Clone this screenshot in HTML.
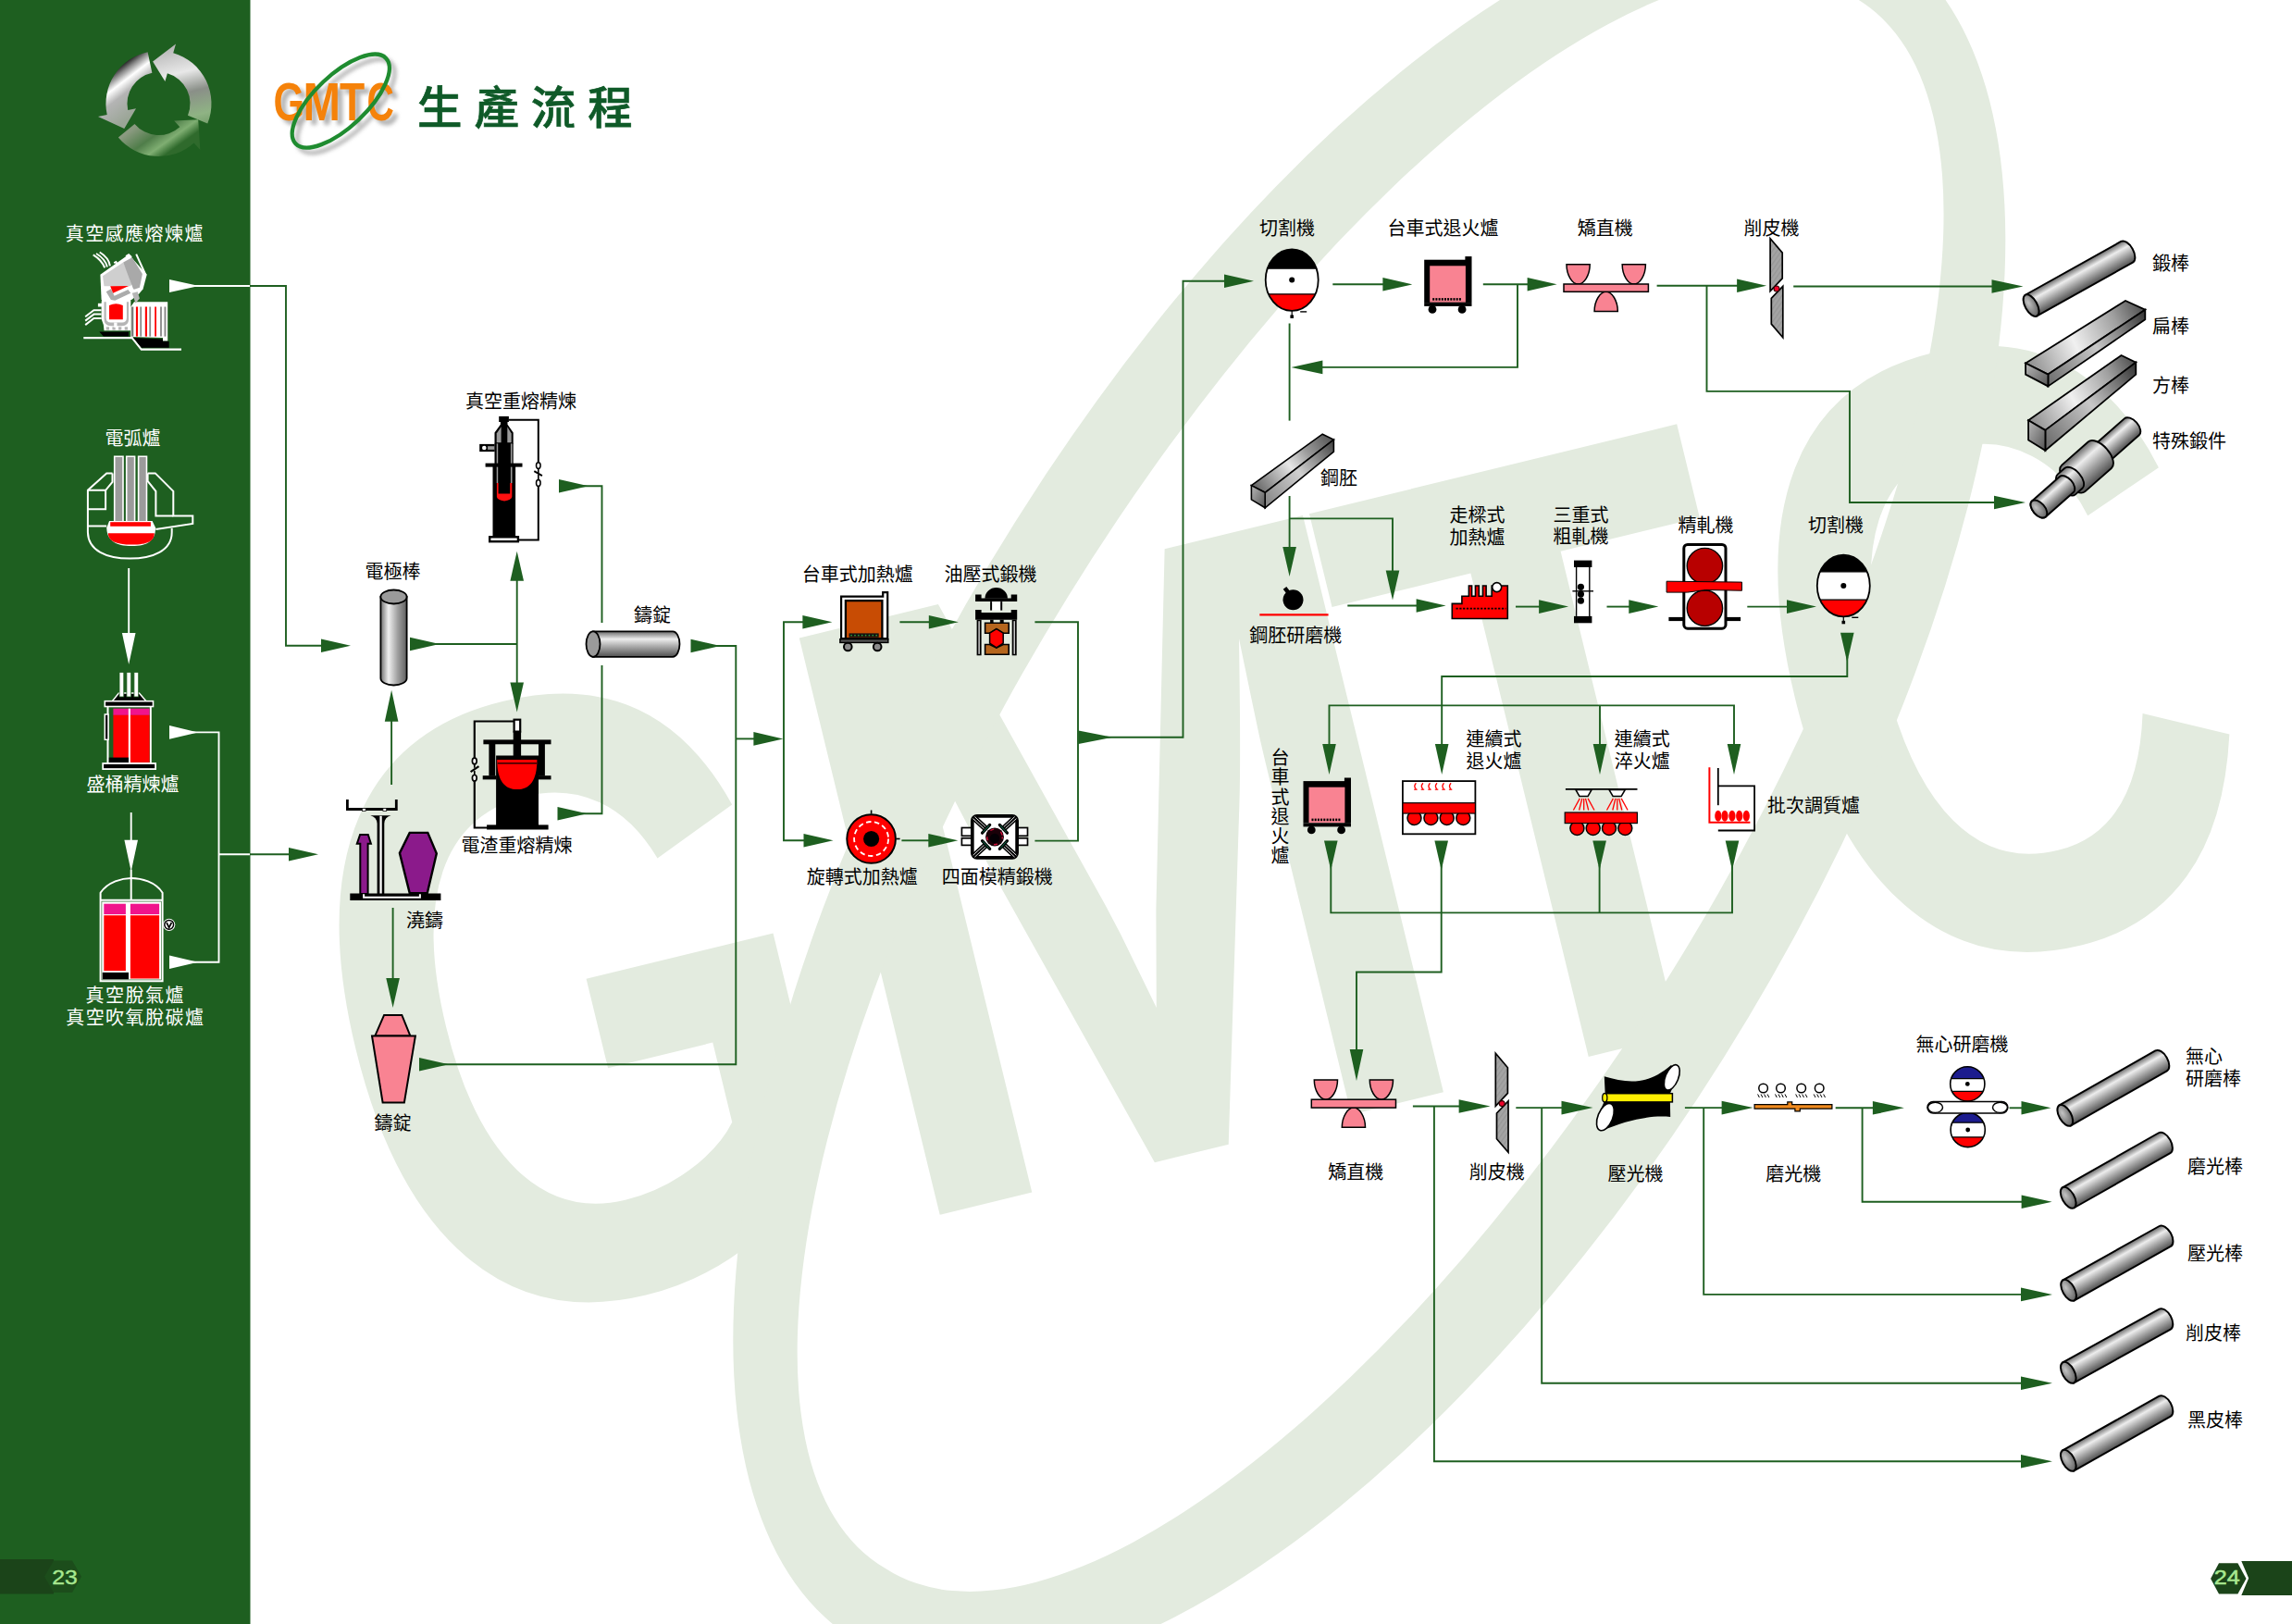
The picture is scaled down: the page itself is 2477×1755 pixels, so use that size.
<!DOCTYPE html>
<html lang="zh-Hant"><head><meta charset="utf-8"><title>生產流程</title>
<style>
html,body{margin:0;padding:0;background:#fff}
body{width:2477px;height:1755px;overflow:hidden;position:relative}
svg{position:absolute;left:0;top:0;display:block}
text{font-family:"Liberation Sans","Noto Sans CJK TC","Noto Sans CJK SC","Noto Sans CJK JP","WenQuanYi Zen Hei",sans-serif}
</style></head><body>
<svg width="2477" height="1755" viewBox="0 0 2477 1755">
<!-- gen_bg.py -->
<defs><linearGradient id="rodg" x1="0" y1="0" x2="0" y2="1"><stop offset="0" stop-color="#6a6a6a"/><stop offset="0.3" stop-color="#ededed"/><stop offset="0.6" stop-color="#a8a8a8"/><stop offset="1" stop-color="#505050"/></linearGradient><linearGradient id="cylv" x1="0" y1="0" x2="1" y2="0"><stop offset="0" stop-color="#707070"/><stop offset="0.3" stop-color="#f0f0f0"/><stop offset="0.65" stop-color="#a0a0a0"/><stop offset="1" stop-color="#606060"/></linearGradient><linearGradient id="faceg" x1="0" y1="0" x2="1" y2="1"><stop offset="0" stop-color="#b8b8b8"/><stop offset="1" stop-color="#555"/></linearGradient></defs>
<rect x="0.0" y="0.0" width="2477.0" height="1755.0" fill="#ffffff" stroke="none" stroke-width="0" />
<!-- gen_water.py -->
<g transform="rotate(-13.7)" fill="#e3ebdf">
<text transform="translate(76.6 1516.0) scale(0.7436 1)" x="0" y="0" font-size="932.4" font-weight="700">G</text>
<text transform="translate(622.3 1516.0) scale(0.8592 1)" x="0" y="0" font-size="932.4" font-weight="700">M</text>
<text transform="translate(1235.4 1516.0) scale(0.7447 1)" x="0" y="0" font-size="932.4" font-weight="700">T</text>
<text transform="translate(1678.0 1516.0) scale(0.7330 1)" x="0" y="0" font-size="932.4" font-weight="700">C</text>
</g>
<path d="M2030.5,-67.9 A1073.7,475.3 -59.14 1 0 929.1,1775.5 A1073.7,475.3 -59.14 1 0 2030.5,-67.9 Z M2005.6,-1.9 A997.4,380.4 -58.27 1 0 956.6,1694.7 A997.4,380.4 -58.27 1 0 2005.6,-1.9 Z" fill="#e3ebdf" stroke="none" stroke-width="0" fill-rule="evenodd"/>
<!-- gen_sidebg.py -->
<rect x="0.0" y="0.0" width="270.5" height="1755.0" fill="#1e5f20" stroke="none" stroke-width="0" />
<rect x="0.0" y="1685.0" width="58.0" height="37.5" fill="#1b4419" stroke="none" stroke-width="0" />
<polygon points="48.0,1703.7 58.0,1686.5 78.0,1686.5 88.0,1703.7 78.0,1721.0 58.0,1721.0" fill="#1c4d1b" stroke="none" stroke-width="0" />
<polygon points="2422.3,1687.0 2477.0,1687.0 2477.0,1724.0 2422.3,1724.0 2430.2,1705.5" fill="#1b4419" stroke="none" stroke-width="0" />
<polygon points="2389.1,1706.0 2398.0,1689.3 2418.4,1689.3 2427.5,1706.0 2418.4,1722.6 2398.0,1722.6" fill="#1b4419" stroke="none" stroke-width="0" />
<!-- gen_lines.py -->
<polygon points="215.0,309.0 183.0,302.0 183.0,316.0" fill="#ffffff"/>
<polyline points="205.0,309.0 270.0,309.0" fill="none" stroke="#ffffff" stroke-width="1.9" />
<polyline points="270.0,309.0 309.0,309.0 309.0,697.7 350.0,697.7" fill="none" stroke="#1e5f20" stroke-width="1.9" />
<polygon points="379.0,697.7 347.0,690.4 347.0,705.0" fill="#1e5f20"/>
<polyline points="139.2,614.0 139.2,690.0" fill="none" stroke="#ffffff" stroke-width="1.9" />
<polygon points="139.2,718.0 131.9,684.0 146.5,684.0" fill="#ffffff"/>
<polyline points="141.7,878.0 141.7,910.0" fill="none" stroke="#ffffff" stroke-width="1.9" />
<polygon points="141.7,941.7 134.4,907.7 149.0,907.7" fill="#ffffff"/>
<polygon points="214.0,791.4 183.0,784.1 183.0,798.7" fill="#ffffff"/>
<polygon points="214.0,1039.8 183.0,1032.5 183.0,1047.1" fill="#ffffff"/>
<polyline points="205.0,791.4 236.5,791.4 236.5,1039.8 205.0,1039.8" fill="none" stroke="#ffffff" stroke-width="1.9" />
<polyline points="236.5,923.2 270.0,923.2" fill="none" stroke="#ffffff" stroke-width="1.9" />
<polyline points="270.0,923.2 315.0,923.2" fill="none" stroke="#1e5f20" stroke-width="1.9" />
<polygon points="344.0,923.2 312.0,915.9 312.0,930.5" fill="#1e5f20"/>
<polygon points="475.0,696.0 443.0,688.7 443.0,703.3" fill="#1e5f20"/>
<polyline points="465.0,696.0 558.7,696.0" fill="none" stroke="#1e5f20" stroke-width="1.9" />
<polyline points="558.7,625.0 558.7,740.0" fill="none" stroke="#1e5f20" stroke-width="1.9" />
<polygon points="558.7,595.8 551.4,627.8 566.0,627.8" fill="#1e5f20"/>
<polygon points="558.7,769.4 551.4,737.4 566.0,737.4" fill="#1e5f20"/>
<polygon points="423.1,745.8 415.8,779.8 430.4,779.8" fill="#1e5f20"/>
<polyline points="423.1,775.0 423.1,848.0" fill="none" stroke="#1e5f20" stroke-width="1.9" />
<polyline points="424.6,981.0 424.6,1060.0" fill="none" stroke="#1e5f20" stroke-width="1.9" />
<polygon points="424.6,1089.0 417.3,1057.0 431.9,1057.0" fill="#1e5f20"/>
<polygon points="636.0,525.3 604.0,518.0 604.0,532.6" fill="#1e5f20"/>
<polyline points="625.0,525.3 650.5,525.3 650.5,673.0" fill="none" stroke="#1e5f20" stroke-width="1.9" />
<polygon points="634.5,879.2 602.5,871.9 602.5,886.5" fill="#1e5f20"/>
<polyline points="625.0,879.2 650.5,879.2 650.5,719.0" fill="none" stroke="#1e5f20" stroke-width="1.9" />
<polygon points="778.5,698.0 746.5,690.7 746.5,705.3" fill="#1e5f20"/>
<polyline points="768.0,698.0 795.3,698.0 795.3,1150.3 475.0,1150.3" fill="none" stroke="#1e5f20" stroke-width="1.9" />
<polygon points="485.0,1150.3 453.0,1143.0 453.0,1157.6" fill="#1e5f20"/>
<polyline points="795.3,798.4 818.0,798.4" fill="none" stroke="#1e5f20" stroke-width="1.9" />
<polygon points="846.4,798.4 814.4,791.1 814.4,805.7" fill="#1e5f20"/>
<polyline points="870.0,672.2 847.0,672.2 847.0,908.3 870.0,908.3" fill="none" stroke="#1e5f20" stroke-width="1.9" />
<polygon points="899.4,672.2 867.4,664.9 867.4,679.5" fill="#1e5f20"/>
<polygon points="900.5,908.3 868.5,901.0 868.5,915.6" fill="#1e5f20"/>
<polyline points="972.4,672.2 1006.0,672.2" fill="none" stroke="#1e5f20" stroke-width="1.9" />
<polygon points="1035.8,672.2 1003.8,664.9 1003.8,679.5" fill="#1e5f20"/>
<polyline points="974.4,908.3 1006.0,908.3" fill="none" stroke="#1e5f20" stroke-width="1.9" />
<polygon points="1035.3,908.3 1003.3,901.0 1003.3,915.6" fill="#1e5f20"/>
<polyline points="1118.4,672.2 1165.0,672.2 1165.0,908.6 1118.4,908.6" fill="none" stroke="#1e5f20" stroke-width="1.9" />
<polygon points="1202.5,796.7 1165.5,789.4 1165.5,804.0" fill="#1e5f20"/>
<polyline points="1195.0,796.7 1278.5,796.7 1278.5,303.8 1325.0,303.8" fill="none" stroke="#1e5f20" stroke-width="1.9" />
<polygon points="1355.0,303.8 1323.0,296.5 1323.0,311.1" fill="#1e5f20"/>
<polyline points="1440.3,307.3 1495.0,307.3" fill="none" stroke="#1e5f20" stroke-width="1.9" />
<polygon points="1526.4,307.3 1494.4,300.0 1494.4,314.6" fill="#1e5f20"/>
<polyline points="1602.8,307.3 1652.0,307.3" fill="none" stroke="#1e5f20" stroke-width="1.9" />
<polygon points="1682.6,307.3 1650.6,300.0 1650.6,314.6" fill="#1e5f20"/>
<polyline points="1640.0,307.3 1640.0,396.9 1425.0,396.9" fill="none" stroke="#1e5f20" stroke-width="1.9" />
<polygon points="1395.4,396.9 1429.4,389.6 1429.4,404.2" fill="#1e5f20"/>
<polyline points="1393.6,349.5 1393.6,454.6" fill="none" stroke="#1e5f20" stroke-width="1.9" />
<polyline points="1393.6,536.0 1393.6,595.0" fill="none" stroke="#1e5f20" stroke-width="1.9" />
<polygon points="1393.6,623.0 1386.3,591.0 1400.9,591.0" fill="#1e5f20"/>
<polyline points="1393.6,560.4 1505.0,560.4 1505.0,620.0" fill="none" stroke="#1e5f20" stroke-width="1.9" />
<polygon points="1505.0,648.6 1497.7,616.6 1512.3,616.6" fill="#1e5f20"/>
<polyline points="1456.3,654.5 1533.0,654.5" fill="none" stroke="#1e5f20" stroke-width="1.9" />
<polygon points="1562.6,654.5 1530.6,647.2 1530.6,661.8" fill="#1e5f20"/>
<polyline points="1638.0,655.6 1667.0,655.6" fill="none" stroke="#1e5f20" stroke-width="1.9" />
<polygon points="1695.1,655.6 1663.1,648.3 1663.1,662.9" fill="#1e5f20"/>
<polyline points="1736.5,655.6 1765.0,655.6" fill="none" stroke="#1e5f20" stroke-width="1.9" />
<polygon points="1792.3,655.6 1760.3,648.3 1760.3,662.9" fill="#1e5f20"/>
<polyline points="1888.3,655.6 1932.0,655.6" fill="none" stroke="#1e5f20" stroke-width="1.9" />
<polygon points="1963.0,655.6 1931.0,648.3 1931.0,662.9" fill="#1e5f20"/>
<polyline points="1790.6,308.8 1880.0,308.8" fill="none" stroke="#1e5f20" stroke-width="1.9" />
<polygon points="1909.1,308.8 1877.1,301.5 1877.1,316.1" fill="#1e5f20"/>
<polyline points="1844.5,308.8 1844.5,422.9 1999.0,422.9 1999.0,543.0 2158.0,543.0" fill="none" stroke="#1e5f20" stroke-width="1.9" />
<polygon points="2189.0,543.0 2155.0,535.7 2155.0,550.3" fill="#1e5f20"/>
<polyline points="1938.2,309.5 2156.0,309.5" fill="none" stroke="#1e5f20" stroke-width="1.9" />
<polygon points="2186.5,309.5 2152.5,302.2 2152.5,316.8" fill="#1e5f20"/>
<polygon points="1996.3,715.7 1989.0,683.7 2003.6,683.7" fill="#1e5f20"/>
<polyline points="1996.3,710.0 1996.3,731.0 1558.2,731.0 1558.2,808.0" fill="none" stroke="#1e5f20" stroke-width="1.9" />
<polyline points="1436.5,808.0 1436.5,762.4 1874.0,762.4 1874.0,808.0" fill="none" stroke="#1e5f20" stroke-width="1.9" />
<polyline points="1729.0,762.4 1729.0,808.0" fill="none" stroke="#1e5f20" stroke-width="1.9" />
<polygon points="1436.5,837.0 1429.2,804.0 1443.8,804.0" fill="#1e5f20"/>
<polygon points="1558.2,837.0 1550.9,804.0 1565.5,804.0" fill="#1e5f20"/>
<polygon points="1729.0,837.0 1721.7,804.0 1736.3,804.0" fill="#1e5f20"/>
<polygon points="1874.0,837.0 1866.7,804.0 1881.3,804.0" fill="#1e5f20"/>
<polygon points="1438.3,940.5 1431.0,908.5 1445.6,908.5" fill="#1e5f20"/>
<polygon points="1557.7,940.5 1550.4,908.5 1565.0,908.5" fill="#1e5f20"/>
<polygon points="1728.6,940.5 1721.3,908.5 1735.9,908.5" fill="#1e5f20"/>
<polygon points="1872.0,940.5 1864.7,908.5 1879.3,908.5" fill="#1e5f20"/>
<polyline points="1438.3,935.0 1438.3,986.4 1872.0,986.4 1872.0,935.0" fill="none" stroke="#1e5f20" stroke-width="1.9" />
<polyline points="1728.6,935.0 1728.6,986.4" fill="none" stroke="#1e5f20" stroke-width="1.9" />
<polyline points="1557.7,935.0 1557.7,1050.5 1466.0,1050.5 1466.0,1138.0" fill="none" stroke="#1e5f20" stroke-width="1.9" />
<polygon points="1466.0,1168.0 1458.7,1134.0 1473.3,1134.0" fill="#1e5f20"/>
<polyline points="1526.9,1195.5 1581.0,1195.5" fill="none" stroke="#1e5f20" stroke-width="1.9" />
<polygon points="1610.6,1195.5 1576.6,1188.2 1576.6,1202.8" fill="#1e5f20"/>
<polyline points="1549.9,1195.5 1549.9,1579.2 2188.0,1579.2" fill="none" stroke="#1e5f20" stroke-width="1.9" />
<polygon points="2218.0,1579.2 2184.0,1571.9 2184.0,1586.5" fill="#1e5f20"/>
<polyline points="1638.3,1197.1 1692.0,1197.1" fill="none" stroke="#1e5f20" stroke-width="1.9" />
<polygon points="1721.5,1197.1 1687.5,1189.8 1687.5,1204.4" fill="#1e5f20"/>
<polyline points="1666.2,1197.1 1666.2,1494.8 2188.0,1494.8" fill="none" stroke="#1e5f20" stroke-width="1.9" />
<polygon points="2218.0,1494.8 2184.0,1487.5 2184.0,1502.1" fill="#1e5f20"/>
<polyline points="1820.9,1197.1 1864.0,1197.1" fill="none" stroke="#1e5f20" stroke-width="1.9" />
<polygon points="1894.6,1197.1 1860.6,1189.8 1860.6,1204.4" fill="#1e5f20"/>
<polyline points="1841.2,1197.1 1841.2,1398.9 2188.0,1398.9" fill="none" stroke="#1e5f20" stroke-width="1.9" />
<polygon points="2218.0,1398.9 2184.0,1391.6 2184.0,1406.2" fill="#1e5f20"/>
<polyline points="1983.7,1197.3 2028.0,1197.3" fill="none" stroke="#1e5f20" stroke-width="1.9" />
<polygon points="2057.9,1197.3 2023.9,1190.0 2023.9,1204.6" fill="#1e5f20"/>
<polyline points="2012.6,1197.3 2012.6,1298.8 2188.0,1298.8" fill="none" stroke="#1e5f20" stroke-width="1.9" />
<polygon points="2217.6,1298.8 2184.6,1291.5 2184.6,1306.1" fill="#1e5f20"/>
<polyline points="2171.6,1197.3 2188.0,1197.3" fill="none" stroke="#1e5f20" stroke-width="1.9" />
<polygon points="2216.5,1197.3 2184.5,1190.0 2184.5,1204.6" fill="#1e5f20"/>
<text x="145.8" y="260.1" fill="#ffffff" font-size="20" text-anchor="middle" font-weight="400" letter-spacing="1.45">真空感應熔煉爐</text>
<text x="143.5" y="481.1" fill="#ffffff" font-size="20" text-anchor="middle" font-weight="400" >電弧爐</text>
<text x="143.5" y="855.1" fill="#ffffff" font-size="20" text-anchor="middle" font-weight="400" >盛桶精煉爐</text>
<text x="146.3" y="1083.1" fill="#ffffff" font-size="20" text-anchor="middle" font-weight="400" letter-spacing="1.5">真空脫氣爐</text>
<text x="146.3" y="1107.1" fill="#ffffff" font-size="20" text-anchor="middle" font-weight="400" letter-spacing="1.45">真空吹氧脫碳爐</text>
<text transform="translate(70 1711.6) scale(1.1 1)" x="0" y="0" text-anchor="middle" font-size="22.5" fill="#a8e890" stroke="#a8e890" stroke-width="0.4">23</text>
<text transform="translate(2406.8 1712.3) scale(1.12 1)" x="0" y="0" text-anchor="middle" font-size="22.5" fill="#a8e890" stroke="#a8e890" stroke-width="0.5">24</text>
<text x="424.5" y="625.1" fill="#000" font-size="20" text-anchor="middle" font-weight="400" >電極棒</text>
<text x="563.0" y="441.1" fill="#000" font-size="20" text-anchor="middle" font-weight="400" >真空重熔精煉</text>
<text x="705.0" y="672.1" fill="#000" font-size="20" text-anchor="middle" font-weight="400" >鑄錠</text>
<text x="558.5" y="921.1" fill="#000" font-size="20" text-anchor="middle" font-weight="400" >電渣重熔精煉</text>
<text x="459.0" y="1002.1" fill="#000" font-size="20" text-anchor="middle" font-weight="400" >澆鑄</text>
<text x="424.4" y="1220.7" fill="#000" font-size="20" text-anchor="middle" font-weight="400" >鑄錠</text>
<text x="926.8" y="627.5" fill="#000" font-size="20" text-anchor="middle" font-weight="400" >台車式加熱爐</text>
<text x="1070.4" y="627.5" fill="#000" font-size="20" text-anchor="middle" font-weight="400" >油壓式鍛機</text>
<text x="931.8" y="954.5" fill="#000" font-size="20" text-anchor="middle" font-weight="400" >旋轉式加熱爐</text>
<text x="1077.7" y="954.5" fill="#000" font-size="20" text-anchor="middle" font-weight="400" >四面模精鍛機</text>
<text x="1391.0" y="254.1" fill="#000" font-size="20" text-anchor="middle" font-weight="400" >切割機</text>
<text x="1559.5" y="254.1" fill="#000" font-size="20" text-anchor="middle" font-weight="400" >台車式退火爐</text>
<text x="1734.8" y="254.1" fill="#000" font-size="20" text-anchor="middle" font-weight="400" >矯直機</text>
<text x="1914.6" y="254.4" fill="#000" font-size="20" text-anchor="middle" font-weight="400" >削皮機</text>
<text x="1447.0" y="524.1" fill="#000" font-size="20" text-anchor="middle" font-weight="400" >鋼胚</text>
<text x="1400.2" y="694.1" fill="#000" font-size="20" text-anchor="middle" font-weight="400" >鋼胚研磨機</text>
<text x="1596.5" y="564.4" fill="#000" font-size="20" text-anchor="middle" font-weight="400" >走樑式</text>
<text x="1596.5" y="588.1" fill="#000" font-size="20" text-anchor="middle" font-weight="400" >加熱爐</text>
<text x="1708.6" y="563.6" fill="#000" font-size="20" text-anchor="middle" font-weight="400" >三重式</text>
<text x="1708.6" y="587.1" fill="#000" font-size="20" text-anchor="middle" font-weight="400" >粗軋機</text>
<text x="1843.4" y="575.1" fill="#000" font-size="20" text-anchor="middle" font-weight="400" >精軋機</text>
<text x="1984.0" y="575.1" fill="#000" font-size="20" text-anchor="middle" font-weight="400" >切割機</text>
<text x="1383.4" y="826.1" fill="#000" font-size="20" text-anchor="middle" font-weight="400" >台</text>
<text x="1383.4" y="847.3" fill="#000" font-size="20" text-anchor="middle" font-weight="400" >車</text>
<text x="1383.4" y="868.5" fill="#000" font-size="20" text-anchor="middle" font-weight="400" >式</text>
<text x="1383.4" y="889.7" fill="#000" font-size="20" text-anchor="middle" font-weight="400" >退</text>
<text x="1383.4" y="910.9" fill="#000" font-size="20" text-anchor="middle" font-weight="400" >火</text>
<text x="1383.4" y="932.1" fill="#000" font-size="20" text-anchor="middle" font-weight="400" >爐</text>
<text x="1614.5" y="805.9" fill="#000" font-size="20" text-anchor="middle" font-weight="400" >連續式</text>
<text x="1614.5" y="829.5" fill="#000" font-size="20" text-anchor="middle" font-weight="400" >退火爐</text>
<text x="1774.8" y="805.9" fill="#000" font-size="20" text-anchor="middle" font-weight="400" >連續式</text>
<text x="1774.8" y="829.5" fill="#000" font-size="20" text-anchor="middle" font-weight="400" >淬火爐</text>
<text x="1960.0" y="878.1" fill="#000" font-size="20" text-anchor="middle" font-weight="400" >批次調質爐</text>
<text x="1465.2" y="1274.4" fill="#000" font-size="20" text-anchor="middle" font-weight="400" >矯直機</text>
<text x="1617.8" y="1274.4" fill="#000" font-size="20" text-anchor="middle" font-weight="400" >削皮機</text>
<text x="1767.5" y="1276.1" fill="#000" font-size="20" text-anchor="middle" font-weight="400" >壓光機</text>
<text x="1938.2" y="1276.1" fill="#000" font-size="20" text-anchor="middle" font-weight="400" >磨光機</text>
<text x="2120.4" y="1135.9" fill="#000" font-size="20" text-anchor="middle" font-weight="400" >無心研磨機</text>
<text x="2362.0" y="1148.6" fill="#000" font-size="20" text-anchor="start" font-weight="400" >無心</text>
<text x="2362.0" y="1172.6" fill="#000" font-size="20" text-anchor="start" font-weight="400" >研磨棒</text>
<text x="2364.0" y="1267.6" fill="#000" font-size="20" text-anchor="start" font-weight="400" >磨光棒</text>
<text x="2364.0" y="1361.7" fill="#000" font-size="20" text-anchor="start" font-weight="400" >壓光棒</text>
<text x="2362.0" y="1447.8" fill="#000" font-size="20" text-anchor="start" font-weight="400" >削皮棒</text>
<text x="2364.0" y="1541.5" fill="#000" font-size="20" text-anchor="start" font-weight="400" >黑皮棒</text>
<text x="2326.0" y="291.6" fill="#000" font-size="20" text-anchor="start" font-weight="400" >鍛棒</text>
<text x="2326.0" y="360.1" fill="#000" font-size="20" text-anchor="start" font-weight="400" >扁棒</text>
<text x="2326.0" y="423.9" fill="#000" font-size="20" text-anchor="start" font-weight="400" >方棒</text>
<text x="2326.0" y="484.1" fill="#000" font-size="20" text-anchor="start" font-weight="400" >特殊鍛件</text>
<!-- gen_side.py -->
<defs><linearGradient id="rc1" gradientUnits="userSpaceOnUse" x1="122" y1="62" x2="160" y2="112"><stop offset="0.17" stop-color="#080808"/><stop offset="0.3" stop-color="#8a8a8a"/><stop offset="0.44" stop-color="#ffffff"/><stop offset="0.62" stop-color="#b4b4b4"/><stop offset="1" stop-color="#9aa596"/></linearGradient><linearGradient id="rc2" gradientUnits="userSpaceOnUse" x1="190" y1="50" x2="215" y2="150"><stop offset="0" stop-color="#b8b8b8"/><stop offset="0.28" stop-color="#e8e8e8"/><stop offset="0.5" stop-color="#8a8f88"/><stop offset="0.75" stop-color="#8fb384"/><stop offset="1" stop-color="#5b8a53"/></linearGradient><linearGradient id="rc3" gradientUnits="userSpaceOnUse" x1="150" y1="135" x2="175" y2="170"><stop offset="0" stop-color="#8a9a80"/><stop offset="0.45" stop-color="#4f7d49"/><stop offset="0.75" stop-color="#7fae72"/><stop offset="1" stop-color="#2f6a2c"/></linearGradient></defs>
<path d="M127.8,148.6 A57.0,57.0 0 0 0 209.6,154.4 L216.3,161.8 L214.2,129.2 L188.2,130.6 L194.3,137.3 A34.0,34.0 0 0 1 145.5,133.9 Z" fill="url(#rc3)" stroke="none" stroke-width="0" />
<path d="M224.3,133.4 A57.0,57.0 0 0 0 187.2,57.2 L190.0,47.6 L165.1,66.4 L178.4,88.0 L180.9,79.3 A34.0,34.0 0 0 1 203.0,124.7 Z" fill="url(#rc2)" stroke="none" stroke-width="0" />
<path d="M159.6,56.2 A57.0,57.0 0 0 0 115.7,123.9 L106.0,125.9 L134.3,139.0 L147.0,117.2 L138.2,119.1 A34.0,34.0 0 0 1 164.4,78.7 Z" fill="url(#rc1)" stroke="none" stroke-width="0" />
<polyline points="90.3,365.1 142.8,365.1 152.8,377.7 196.0,377.7" fill="none" stroke="#ffffff" stroke-width="2.2" />
<polygon points="107.3,358.5 139.1,358.5 139.1,363.6 111.8,363.6" fill="#000" stroke="none" stroke-width="0" />
<polygon points="141.3,331.5 145.0,326.3 181.2,326.3 181.2,368.4 176.0,368.4 176.0,365.1 141.3,364.0" fill="#ffffff" stroke="none" stroke-width="0" />
<polygon points="142.1,331.5 144.3,331.5 144.3,363.6 142.1,363.6" fill="#777" stroke="none" stroke-width="0" />
<polygon points="146.9,331.5 149.1,331.5 149.1,363.6 146.9,363.6" fill="#ff0000" stroke="none" stroke-width="0" />
<polygon points="151.3,331.5 153.1,331.5 153.1,363.6 151.3,363.6" fill="#888" stroke="none" stroke-width="0" />
<polygon points="156.8,331.5 159.0,331.5 159.0,363.6 156.8,363.6" fill="#ff0000" stroke="none" stroke-width="0" />
<polygon points="161.3,331.5 163.1,331.5 163.1,363.6 161.3,363.6" fill="#888" stroke="none" stroke-width="0" />
<polygon points="167.2,331.5 169.0,331.5 169.0,363.6 167.2,363.6" fill="#ff0000" stroke="none" stroke-width="0" />
<polygon points="173.1,331.5 174.9,331.5 174.9,363.6 173.1,363.6" fill="#888" stroke="none" stroke-width="0" />
<polygon points="177.5,331.5 179.4,331.5 179.4,363.6 177.5,363.6" fill="#888" stroke="none" stroke-width="0" />
<polygon points="144.1,364.9 176.0,366.4 176.0,368.8 182.7,368.8 182.7,375.8 152.8,375.8" fill="#000" stroke="none" stroke-width="0" />
<path d="M110.3,324.1 L141.3,324.1 L141.3,357.3 L112.5,357.3 Q112.5,350.7 109.6,344.8 L109.6,330.0 Q109.6,324.1 110.3,324.1 Z" fill="#ffffff" stroke="none" stroke-width="0" />
<polygon points="105.9,327.8 110.3,327.8 110.3,331.5 105.9,331.5" fill="#ffffff" stroke="none" stroke-width="0" />
<path d="M112.5,326.3 L139.1,326.3 L139.1,344.8 Q139.1,352.2 131.7,352.2 L119.9,352.2 Q112.5,352.2 112.5,344.8 Z" fill="#b5b5b5" stroke="none" stroke-width="0" />
<path d="M114.7,325.6 L136.9,325.6 L136.9,343.3 Q136.9,348.5 131.7,348.5 L119.9,348.5 Q114.7,348.5 114.7,343.3 Z" fill="#ffffff" stroke="none" stroke-width="0" />
<path d="M118.0,330.0 Q125.4,326.7 132.8,330.0 L132.8,345.2 L118.0,345.2 Z" fill="#ff0000" stroke="none" stroke-width="0" />
<polygon points="114.7,353.3 118.0,353.3 118.0,356.6 114.7,356.6" fill="#b5b5b5" stroke="none" stroke-width="0" />
<polygon points="121.4,353.3 124.7,353.3 124.7,356.6 121.4,356.6" fill="#b5b5b5" stroke="none" stroke-width="0" />
<polygon points="128.0,353.3 131.3,353.3 131.3,356.6 128.0,356.6" fill="#b5b5b5" stroke="none" stroke-width="0" />
<polygon points="134.7,353.3 138.0,353.3 138.0,356.6 134.7,356.6" fill="#b5b5b5" stroke="none" stroke-width="0" />
<polygon points="123.2,348.5 126.5,348.5 126.5,353.7 123.2,353.7" fill="#ffffff" stroke="none" stroke-width="0" />
<polygon points="108.4,296.8 139.1,275.0 158.7,296.8 154.6,312.3 150.9,316.7 141.3,324.1 109.6,324.1" fill="#ffffff" stroke="none" stroke-width="0" />
<polygon points="111.0,298.2 133.2,283.5 143.5,306.4 140.6,309.3 112.5,309.3" fill="#cfcfcf" stroke="none" stroke-width="0" />
<polygon points="133.2,283.5 142.8,278.3 153.9,296.0 150.9,310.8 144.3,313.0" fill="#a9a9a9" stroke="none" stroke-width="0" />
<polygon points="111.8,310.1 140.6,310.1 150.9,316.7 142.1,324.1 111.0,324.1" fill="#ffffff" stroke="none" stroke-width="0" />
<polygon points="114.7,315.2 119.9,312.3 123.6,319.7 138.4,313.0 141.3,316.7 124.3,324.8 119.9,324.1" fill="#ababab" stroke="none" stroke-width="0" />
<polygon points="119.2,309.2 139.1,309.0 122.1,316.7" fill="#ff0000" stroke="none" stroke-width="0" />
<polygon points="142.8,316.7 148.7,315.2 150.9,322.6 146.5,327.8" fill="#b5b5b5" stroke="none" stroke-width="0" />
<polyline points="147.2,274.6 157.6,297.5" fill="none" stroke="#ffffff" stroke-width="2" />
<polyline points="136.1,277.2 139.1,275.3 142.1,277.9" fill="none" stroke="#ffffff" stroke-width="2" />
<polyline points="123.2,284.2 125.4,283.1 126.9,286.1" fill="none" stroke="#ffffff" stroke-width="2" />
<path d="M100.7,275.3 C108.1,279.8 111.0,283.5 113.2,289.4" fill="none" stroke="#ffffff" stroke-width="2" />
<path d="M104.0,274.0 C111.4,278.4 114.4,282.5 115.9,288.4" fill="none" stroke="#ffffff" stroke-width="2" />
<path d="M107.7,272.5 C115.1,277.0 118.0,281.4 118.9,287.3" fill="none" stroke="#ffffff" stroke-width="2" />
<polyline points="92.2,342.2 101.4,335.2 109.6,335.2" fill="none" stroke="#ffffff" stroke-width="2" />
<polyline points="92.2,346.6 101.4,339.6 109.6,339.6" fill="none" stroke="#ffffff" stroke-width="2" />
<polyline points="92.2,351.1 101.4,344.0 109.6,344.0" fill="none" stroke="#ffffff" stroke-width="2" />
<polygon points="123.7,493.2 133.0,493.2 133.0,564.1 123.7,564.1" fill="#9b9b9b" stroke="#ffffff" stroke-width="1.6" />
<polygon points="136.7,493.2 145.6,493.2 145.6,564.1 136.7,564.1" fill="#9b9b9b" stroke="#ffffff" stroke-width="1.6" />
<polygon points="149.6,493.2 158.5,493.2 158.5,564.1 149.6,564.1" fill="#9b9b9b" stroke="#ffffff" stroke-width="1.6" />
<path d="M121.5,511.4 L115.2,511.4 L94.9,529.8 L94.9,575.2 C95.3,595.1 115.2,603.6 140.3,603.6 C165.1,603.6 185.7,595.1 185.7,575.2 L185.7,570.8" fill="none" stroke="#ffffff" stroke-width="2" />
<polyline points="121.5,511.4 121.5,520.9 114.1,529.8 94.9,529.8" fill="none" stroke="#ffffff" stroke-width="2" />
<polyline points="114.1,529.8 114.1,550.2 94.9,550.2" fill="none" stroke="#ffffff" stroke-width="2" />
<polyline points="94.9,568.5 115.2,568.5" fill="none" stroke="#ffffff" stroke-width="2" />
<polyline points="159.6,511.4 167.8,511.4 187.3,530.9 187.3,557.5 208.3,557.5 208.3,565.9 168.4,571.9" fill="none" stroke="#ffffff" stroke-width="2" />
<polyline points="159.6,511.4 159.6,519.8 168.4,530.9 168.4,557.5 187.3,557.5" fill="none" stroke="#ffffff" stroke-width="2" />
<path d="M118.1,563.1 L164.6,563.1 L168.1,570.2 C168.1,583.9 159.8,590.1 142.4,590.1 C124.9,590.1 115.3,583.9 115.3,570.2 Z" fill="#ffffff" stroke="none" stroke-width="0" />
<rect x="119.2" y="564.2" width="43.7" height="4.6" fill="#ff0000" stroke="none" stroke-width="0" />
<path d="M116.8,576.2 L166.8,576.2 C166.8,584.3 159.8,588.6 142.4,588.6 C124.9,588.6 116.8,584.3 116.8,576.2 Z" fill="#ff0000" stroke="none" stroke-width="0" />
<rect x="116.5" y="763.0" width="46.3" height="62.0" fill="#1e5f20" stroke="#ffffff" stroke-width="2" />
<polygon points="128.4,749.0 150.4,749.0 158.9,758.8 120.5,758.8" fill="#000" stroke="#ffffff" stroke-width="1.5" />
<rect x="129.0" y="726.5" width="4.8" height="26.5" fill="#ffffff" stroke="#1e5f20" stroke-width="0.8" />
<rect x="136.9" y="726.5" width="4.8" height="26.5" fill="#ffffff" stroke="#1e5f20" stroke-width="0.8" />
<rect x="144.9" y="726.5" width="4.8" height="26.5" fill="#ffffff" stroke="#1e5f20" stroke-width="0.8" />
<rect x="113.3" y="757.7" width="52.2" height="5.8" fill="#000" stroke="#ffffff" stroke-width="1.6" />
<rect x="122.4" y="765.7" width="39.2" height="7.2" fill="#f0148c" stroke="none" stroke-width="0" />
<rect x="122.4" y="772.8" width="39.2" height="51.1" fill="#ff0000" stroke="none" stroke-width="0" />
<rect x="138.8" y="765.7" width="2.1" height="58.3" fill="#ffffff" stroke="none" stroke-width="0" />
<rect x="113.3" y="772.0" width="3.7" height="27.3" fill="#000" stroke="#ffffff" stroke-width="1.5" />
<rect x="117.8" y="818.6" width="21.2" height="5.8" fill="#000" stroke="none" stroke-width="0" />
<rect x="111.2" y="825.0" width="56.9" height="6.1" fill="#000" stroke="#ffffff" stroke-width="1.8" />
<path d="M108.6,1060.2 L108.6,964.8 C116.5,952.9 132.4,948.9 141.9,948.9 C152.3,948.9 168.2,952.9 175.6,964.8 L175.6,1060.2 Z" fill="none" stroke="#ffffff" stroke-width="2" />
<polyline points="108.6,972.8 175.6,972.8" fill="none" stroke="#ffffff" stroke-width="2" />
<polyline points="141.7,939.7 141.7,972.8" fill="none" stroke="#ffffff" stroke-width="2" />
<rect x="110.2" y="974.4" width="63.8" height="84.2" fill="#ffffff" stroke="none" stroke-width="0" />
<rect x="112.3" y="976.7" width="23.6" height="11.4" fill="#f0148c" stroke="none" stroke-width="0" />
<rect x="140.9" y="976.7" width="31.2" height="11.4" fill="#f0148c" stroke="none" stroke-width="0" />
<rect x="112.3" y="989.2" width="23.6" height="59.9" fill="#ff0000" stroke="none" stroke-width="0" />
<rect x="140.9" y="989.2" width="31.2" height="68.3" fill="#ff0000" stroke="none" stroke-width="0" />
<rect x="110.7" y="1050.9" width="28.3" height="7.4" fill="#000" stroke="none" stroke-width="0" />
<circle cx="182.7" cy="999.3" r="6.6" fill="#ffffff" stroke="#ffffff" stroke-width="0" />
<circle cx="182.7" cy="999.3" r="4.9" fill="#fff" stroke="#000" stroke-width="1.5" />
<polyline points="180.0,997.0 182.7,1002.4 185.4,997.0" fill="none" stroke="#000" stroke-width="1.7" />
<!-- gen_main.py -->
<path d="M411.4,645 L411.4,733 A14.1,7.5 0 0 0 439.6,733 L439.6,645 Z" fill="url(#cylv)" stroke="#000" stroke-width="1.8" />
<ellipse cx="425.5" cy="645.0" rx="14.1" ry="7.5" fill="#9a9a9a" stroke="#000" stroke-width="1.8" />
<path d="M641,682.4 L727,682.4 A7.5,13.7 0 0 1 727,709.8 L641,709.8 Z" fill="url(#rodg)" stroke="#000" stroke-width="1.8" />
<ellipse cx="641.0" cy="696.1" rx="7.5" ry="13.7" fill="#9a9a9a" stroke="#000" stroke-width="1.8" />
<polyline points="549.8,453.8 581.8,453.8 581.8,583.6 560.6,583.6" fill="none" stroke="#000" stroke-width="2" />
<rect x="578.8" y="499.1" width="6.1" height="26.8" fill="#fff" stroke="none" stroke-width="0" />
<ellipse cx="581.8" cy="503.1" rx="2.3" ry="3.4" fill="#fff" stroke="#000" stroke-width="1.5" />
<ellipse cx="581.8" cy="522.0" rx="2.3" ry="3.4" fill="#fff" stroke="#000" stroke-width="1.5" />
<polyline points="577.3,509.2 585.9,514.1" fill="none" stroke="#000" stroke-width="2" />
<polyline points="581.8,506.5 581.8,510.9" fill="none" stroke="#000" stroke-width="1.6" />
<polyline points="581.8,512.7 581.8,518.5" fill="none" stroke="#000" stroke-width="1.6" />
<rect x="518.2" y="479.9" width="16.5" height="8.2" fill="#000" stroke="none" stroke-width="0" />
<rect x="527.1" y="482.2" width="7.6" height="3.7" fill="#9a9a9a" stroke="none" stroke-width="0" />
<circle cx="523.3" cy="484.0" r="2.3" fill="#fff" stroke="none" stroke-width="0" />
<polygon points="540.9,455.8 548.5,455.8 548.5,458.7 554.7,467.6 554.7,479.4 534.5,479.4 534.5,467.6 540.9,458.7" fill="#000" stroke="none" stroke-width="0" />
<polygon points="541.6,461.2 536.7,468.6 536.7,478.2 541.6,478.2" fill="#9a9a9a" stroke="none" stroke-width="0" />
<polygon points="548.3,461.2 552.7,468.6 552.7,478.2 548.3,478.2" fill="#9a9a9a" stroke="none" stroke-width="0" />
<rect x="539.2" y="449.9" width="10.7" height="6.1" fill="#000" stroke="none" stroke-width="0" />
<rect x="534.5" y="478.9" width="20.2" height="24.1" fill="#000" stroke="none" stroke-width="0" />
<rect x="532.5" y="503.1" width="24.6" height="77.3" fill="#000" stroke="none" stroke-width="0" />
<rect x="536.7" y="479.4" width="1.5" height="42.6" fill="#9a9a9a" stroke="none" stroke-width="0" />
<rect x="551.9" y="479.4" width="1.6" height="42.6" fill="#9a9a9a" stroke="none" stroke-width="0" />
<path d="M536.9,522.0 L536.9,537.0 Q537.4,540.0 545.1,541.5 Q552.7,540.0 553.3,537.0 L553.3,522.0 L551.2,522.0 L551.2,533.6 L538.6,533.6 L538.6,522.0 Z" fill="#ff1010" stroke="none" stroke-width="0" />
<rect x="524.6" y="500.6" width="39.9" height="4.0" fill="#000" stroke="none" stroke-width="0" />
<rect x="529.2" y="580.3" width="30.7" height="4.9" fill="#fff" stroke="#000" stroke-width="2.4" />
<polyline points="556.1,779.5 512.8,779.5 512.8,894.5 527.3,894.5" fill="none" stroke="#000" stroke-width="2.2" />
<rect x="509.5" y="819.8" width="6.6" height="24.4" fill="#e3ebdf" stroke="none" stroke-width="0" />
<ellipse cx="512.8" cy="822.4" rx="2.4" ry="3.3" fill="#fff" stroke="#000" stroke-width="1.7" />
<ellipse cx="512.8" cy="840.8" rx="2.4" ry="3.3" fill="#fff" stroke="#000" stroke-width="1.7" />
<polyline points="508.6,834.2 517.5,828.2" fill="none" stroke="#000" stroke-width="2.2" />
<polyline points="512.8,825.8 512.8,829.8" fill="none" stroke="#000" stroke-width="1.7" />
<polyline points="512.8,833.1 512.8,837.5" fill="none" stroke="#000" stroke-width="1.7" />
<rect x="555.6" y="777.7" width="6.6" height="12.9" fill="#fff" stroke="#000" stroke-width="2.2" />
<rect x="554.7" y="790.1" width="8.4" height="27.9" fill="#000" stroke="none" stroke-width="0" />
<rect x="522.4" y="799.4" width="73.1" height="4.9" fill="#000" stroke="none" stroke-width="0" />
<rect x="528.4" y="803.8" width="6.9" height="34.8" fill="#000" stroke="none" stroke-width="0" />
<rect x="582.0" y="803.8" width="6.9" height="34.8" fill="#000" stroke="none" stroke-width="0" />
<rect x="521.7" y="838.2" width="14.8" height="4.2" fill="#000" stroke="none" stroke-width="0" />
<rect x="581.1" y="838.2" width="14.4" height="4.2" fill="#000" stroke="none" stroke-width="0" />
<rect x="536.1" y="816.5" width="45.9" height="76.5" fill="#000" stroke="none" stroke-width="0" />
<path d="M537.2,820.9 L580.4,820.9 C580.4,843.1 572.7,853.0 558.9,853.0 C545.0,853.0 537.2,843.1 537.2,820.9 Z" fill="#ff0000" stroke="none" stroke-width="0" />
<polyline points="537.7,824.9 580.0,824.9" fill="none" stroke="#000" stroke-width="1.4" />
<rect x="526.1" y="891.4" width="66.5" height="5.1" fill="#000" stroke="none" stroke-width="0" />
<polyline points="375.4,864.1 375.4,874.5 428.3,874.5 428.3,864.1" fill="none" stroke="#000" stroke-width="2.8" />
<rect x="391.4" y="873.5" width="3.8" height="3.1" fill="#fff" stroke="#111" stroke-width="0.8" />
<rect x="413.9" y="873.5" width="3.8" height="3.1" fill="#fff" stroke="#111" stroke-width="0.8" />
<path d="M400.3,881.2 L422.5,881.2 Q415.7,882.8 415.3,889.9 L415.3,966.4 L407.6,966.4 L407.6,889.9 Q407.1,882.8 400.3,881.2 Z" fill="#000" stroke="none" stroke-width="0" />
<rect x="410.4" y="881.8" width="2.3" height="87.9" fill="#fff" stroke="none" stroke-width="0" />
<polygon points="389.1,902.0 397.8,902.0 400.9,911.7 397.6,911.7 397.6,966.0 389.3,966.0 389.3,911.7 385.8,911.7" fill="#8b1a8b" stroke="#000" stroke-width="2" />
<polygon points="442.7,899.9 462.3,899.9 471.8,922.3 461.8,965.1 442.7,965.1 431.9,921.9" fill="#8b1a8b" stroke="#000" stroke-width="2.4" />
<rect x="378.3" y="965.5" width="98.1" height="7.5" fill="#000" stroke="none" stroke-width="0" />
<path d="M393.1,966.2 L393.1,969.7 L453.9,969.7 L453.9,966.2" fill="none" stroke="#fff" stroke-width="2" />
<polygon points="415.1,1096.9 434.3,1096.9 443.4,1119.4 405.3,1119.4" fill="#f98392" stroke="#000" stroke-width="2" />
<polygon points="402.0,1119.4 448.9,1119.4 436.9,1191.4 413.6,1191.4" fill="#f98392" stroke="#000" stroke-width="2" />
<polygon points="909.1,644.6 954.2,644.6 954.2,640.1 959.2,640.1 959.2,690.2 909.1,690.2" fill="#fff" stroke="#000" stroke-width="2.2" />
<rect x="913.9" y="649.1" width="39.5" height="41.1" fill="#c84c04" stroke="#000" stroke-width="2.3" />
<rect x="917.6" y="684.4" width="32.1" height="4.3" fill="#111" stroke="none" stroke-width="0" />
<circle cx="920.1" cy="686.6" r="0.9" fill="#2e9a3a" stroke="none" stroke-width="0" />
<circle cx="924.0" cy="686.6" r="0.9" fill="#2e9a3a" stroke="none" stroke-width="0" />
<circle cx="927.8" cy="686.6" r="0.9" fill="#2e9a3a" stroke="none" stroke-width="0" />
<circle cx="931.7" cy="686.6" r="0.9" fill="#2e9a3a" stroke="none" stroke-width="0" />
<circle cx="935.6" cy="686.6" r="0.9" fill="#2e9a3a" stroke="none" stroke-width="0" />
<circle cx="939.4" cy="686.6" r="0.9" fill="#2e9a3a" stroke="none" stroke-width="0" />
<circle cx="943.3" cy="686.6" r="0.9" fill="#2e9a3a" stroke="none" stroke-width="0" />
<circle cx="947.2" cy="686.6" r="0.9" fill="#2e9a3a" stroke="none" stroke-width="0" />
<rect x="907.9" y="690.7" width="51.9" height="3.7" fill="#555" stroke="#000" stroke-width="1.5" />
<circle cx="916.3" cy="699.0" r="4.3" fill="#8a8a8a" stroke="#000" stroke-width="2" />
<circle cx="948.2" cy="699.0" r="4.3" fill="#8a8a8a" stroke="#000" stroke-width="2" />
<path d="M1064.4,646.7 A12.3,11.6 0 0 1 1089.0,646.7 Z" fill="#000" stroke="none" stroke-width="0" />
<polygon points="1054.1,642.6 1060.6,642.6 1060.6,646.6 1092.7,646.6 1092.7,642.6 1099.2,642.6 1099.2,650.1 1054.1,650.1" fill="#000" stroke="none" stroke-width="0" />
<rect x="1070.1" y="650.1" width="13.0" height="9.5" fill="#fff" stroke="none" stroke-width="0" />
<rect x="1070.1" y="650.1" width="2.0" height="9.5" fill="#000" stroke="none" stroke-width="0" />
<rect x="1081.2" y="650.1" width="2.0" height="9.5" fill="#000" stroke="none" stroke-width="0" />
<polygon points="1054.1,659.1 1060.6,659.1 1060.6,662.1 1092.7,662.1 1092.7,659.1 1099.2,659.1 1099.2,669.7 1054.1,669.7" fill="#000" stroke="none" stroke-width="0" />
<rect x="1055.6" y="669.7" width="5.0" height="38.6" fill="#000" stroke="none" stroke-width="0" />
<rect x="1093.7" y="669.7" width="5.0" height="38.6" fill="#000" stroke="none" stroke-width="0" />
<rect x="1057.4" y="671.2" width="1.4" height="35.6" fill="#ddd" stroke="none" stroke-width="0" />
<rect x="1095.5" y="671.2" width="1.4" height="35.6" fill="#ddd" stroke="none" stroke-width="0" />
<rect x="1070.1" y="669.7" width="3.5" height="3.3" fill="#000" stroke="none" stroke-width="0" />
<rect x="1080.7" y="669.7" width="4.0" height="3.3" fill="#000" stroke="none" stroke-width="0" />
<polygon points="1064.6,673.2 1090.2,673.2 1090.2,684.2 1084.2,684.2 1076.9,679.7 1069.6,684.2 1064.6,684.2" fill="#b5651d" stroke="#000" stroke-width="1.6" />
<polygon points="1064.6,696.5 1069.6,696.5 1076.9,700.1 1084.2,696.5 1090.2,696.5 1090.2,707.3 1064.6,707.3" fill="#b5651d" stroke="#000" stroke-width="1.6" />
<polygon points="1076.9,679.7 1084.2,684.2 1084.2,695.2 1076.9,699.8 1069.6,695.2 1069.6,684.2" fill="#ff0000" stroke="#000" stroke-width="1.5" />
<circle cx="941.6" cy="906.5" r="26.3" fill="#ff0000" stroke="#000" stroke-width="2" />
<circle cx="941.6" cy="906.5" r="18.5" fill="none" stroke="#fff" stroke-width="1.8" stroke-dasharray="5.5 3.5"/>
<circle cx="941.6" cy="906.5" r="8.6" fill="#000" stroke="none" stroke-width="0" />
<polyline points="941.6,879.5 941.6,875.5" fill="none" stroke="#000" stroke-width="1.6" />
<polyline points="968.6,906.5 972.6,906.5" fill="none" stroke="#000" stroke-width="1.6" />
<rect x="1039.4" y="894.5" width="10.6" height="8.8" fill="#fff" stroke="#000" stroke-width="1.7" />
<rect x="1100.0" y="894.5" width="10.5" height="8.8" fill="#fff" stroke="#000" stroke-width="1.7" />
<rect x="1039.4" y="905.8" width="10.6" height="7.6" fill="#fff" stroke="#000" stroke-width="1.7" />
<rect x="1100.0" y="905.8" width="10.5" height="7.6" fill="#fff" stroke="#000" stroke-width="1.7" />
<rect x="1050.8" y="881.8" width="48.3" height="45" rx="5" fill="#fff" stroke="#000" stroke-width="3.7"/>
<polyline points="1052.5,883.6 1066.0,896.1" fill="none" stroke="#000" stroke-width="6.4" />
<polyline points="1051.6,884.6 1063.6,895.7" fill="none" stroke="#fff" stroke-width="0.9" />
<polyline points="1053.4,882.6 1065.4,893.8" fill="none" stroke="#fff" stroke-width="0.9" />
<polyline points="1061.5,900.2 1069.7,891.4" fill="none" stroke="#000" stroke-width="3.2" stroke-linecap="round"/>
<polyline points="1062.2,899.5 1069.0,892.1" fill="none" stroke="#0f7a52" stroke-width="1" />
<polyline points="1097.5,883.6 1084.0,896.1" fill="none" stroke="#000" stroke-width="6.4" />
<polyline points="1096.6,882.6 1084.6,893.8" fill="none" stroke="#fff" stroke-width="0.9" />
<polyline points="1098.4,884.6 1086.4,895.7" fill="none" stroke="#fff" stroke-width="0.9" />
<polyline points="1080.3,891.4 1088.5,900.2" fill="none" stroke="#000" stroke-width="3.2" stroke-linecap="round"/>
<polyline points="1081.0,892.1 1087.8,899.5" fill="none" stroke="#0f7a52" stroke-width="1" />
<polyline points="1052.5,925.2 1066.0,912.7" fill="none" stroke="#000" stroke-width="6.4" />
<polyline points="1053.4,926.2 1065.4,915.0" fill="none" stroke="#fff" stroke-width="0.9" />
<polyline points="1051.6,924.2 1063.6,913.1" fill="none" stroke="#fff" stroke-width="0.9" />
<polyline points="1069.7,917.4 1061.5,908.6" fill="none" stroke="#000" stroke-width="3.2" stroke-linecap="round"/>
<polyline points="1069.0,916.7 1062.2,909.3" fill="none" stroke="#0f7a52" stroke-width="1" />
<polyline points="1097.5,925.2 1084.0,912.7" fill="none" stroke="#000" stroke-width="6.4" />
<polyline points="1098.4,924.2 1086.4,913.1" fill="none" stroke="#fff" stroke-width="0.9" />
<polyline points="1096.6,926.2 1084.6,915.0" fill="none" stroke="#fff" stroke-width="0.9" />
<polyline points="1088.5,908.6 1080.3,917.4" fill="none" stroke="#000" stroke-width="3.2" stroke-linecap="round"/>
<polyline points="1087.8,909.3 1081.0,916.7" fill="none" stroke="#0f7a52" stroke-width="1" />
<circle cx="1075.0" cy="904.4" r="10.0" fill="#1a0008" stroke="none" stroke-width="0" />
<circle cx="1075.0" cy="904.4" r="8.3" fill="none" stroke="#d0103a" stroke-width="1.4" stroke-dasharray="4 8" stroke-dashoffset="2"/>
<circle cx="1075.0" cy="905.9" r="5.2" fill="#050005" stroke="none" stroke-width="0" />
<!-- gen_main2.py -->
<clipPath id="cc1"><ellipse cx="1396.2" cy="302.6" rx="28.5" ry="33.3"/></clipPath>
<ellipse cx="1396.2" cy="302.6" rx="28.5" ry="33.3" fill="#fff" stroke="none" stroke-width="0" />
<g clip-path="url(#cc1)">
<rect x="1366.7" y="268.3" width="59.0" height="21.8" fill="#000" stroke="none" stroke-width="0" />
<rect x="1366.7" y="317.8" width="59.0" height="19.1" fill="#ff0000" stroke="none" stroke-width="0" />
<polyline points="1367.7,290.1 1424.7,290.1" fill="none" stroke="#000" stroke-width="1.2" />
<polyline points="1367.7,317.8 1424.7,317.8" fill="none" stroke="#000" stroke-width="1.2" />
</g>
<ellipse cx="1396.2" cy="302.6" rx="28.5" ry="33.3" fill="none" stroke="#000" stroke-width="1.8" />
<circle cx="1396.2" cy="302.6" r="3.0" fill="#000" stroke="none" stroke-width="0" />
<polyline points="1396.2,335.9 1396.2,340.9" fill="none" stroke="#000" stroke-width="1.2" />
<rect x="1394.4" y="340.4" width="3.6" height="3.5" fill="#000" stroke="none" stroke-width="0" />
<polyline points="1405.2,336.9 1412.2,336.9" fill="none" stroke="#000" stroke-width="1.4" />
<clipPath id="cc2"><ellipse cx="1992.3" cy="633.0" rx="28.5" ry="33.3"/></clipPath>
<ellipse cx="1992.3" cy="633.0" rx="28.5" ry="33.3" fill="#fff" stroke="none" stroke-width="0" />
<g clip-path="url(#cc2)">
<rect x="1962.8" y="598.7" width="59.0" height="19.1" fill="#000" stroke="none" stroke-width="0" />
<rect x="1962.8" y="648.2" width="59.0" height="19.1" fill="#ff0000" stroke="none" stroke-width="0" />
<polyline points="1963.8,617.8 2020.8,617.8" fill="none" stroke="#000" stroke-width="1.2" />
<polyline points="1963.8,648.2 2020.8,648.2" fill="none" stroke="#000" stroke-width="1.2" />
</g>
<ellipse cx="1992.3" cy="633.0" rx="28.5" ry="33.3" fill="none" stroke="#000" stroke-width="1.8" />
<circle cx="1992.3" cy="633.0" r="3.0" fill="#000" stroke="none" stroke-width="0" />
<polyline points="1992.3,666.3 1992.3,671.3" fill="none" stroke="#000" stroke-width="1.2" />
<rect x="1990.5" y="670.8" width="3.6" height="3.5" fill="#000" stroke="none" stroke-width="0" />
<polyline points="2001.3,667.3 2008.3,667.3" fill="none" stroke="#000" stroke-width="1.4" />
<rect x="1539.2" y="280.7" width="50.7" height="46.4" fill="#000" stroke="none" stroke-width="0" />
<rect x="1583.4" y="277.1" width="7.1" height="50.0" fill="#000" stroke="none" stroke-width="0" />
<rect x="1545.2" y="287.3" width="38.7" height="39.3" fill="#f98392" stroke="none" stroke-width="0" />
<rect x="1539.2" y="327.1" width="51.3" height="3.8" fill="#000" stroke="none" stroke-width="0" />
<circle cx="1548.0" cy="334.4" r="4.4" fill="#000" stroke="none" stroke-width="0" />
<circle cx="1580.1" cy="334.4" r="4.4" fill="#000" stroke="none" stroke-width="0" />
<rect x="1548.2" y="322.1" width="2.0" height="2.6" fill="#000" stroke="none" stroke-width="0" />
<rect x="1551.4" y="322.1" width="2.0" height="2.6" fill="#000" stroke="none" stroke-width="0" />
<rect x="1554.6" y="322.1" width="2.0" height="2.6" fill="#000" stroke="none" stroke-width="0" />
<rect x="1557.8" y="322.1" width="2.0" height="2.6" fill="#000" stroke="none" stroke-width="0" />
<rect x="1561.0" y="322.1" width="2.0" height="2.6" fill="#000" stroke="none" stroke-width="0" />
<rect x="1564.1" y="322.1" width="2.0" height="2.6" fill="#000" stroke="none" stroke-width="0" />
<rect x="1567.3" y="322.1" width="2.0" height="2.6" fill="#000" stroke="none" stroke-width="0" />
<rect x="1570.5" y="322.1" width="2.0" height="2.6" fill="#000" stroke="none" stroke-width="0" />
<rect x="1573.7" y="322.1" width="2.0" height="2.6" fill="#000" stroke="none" stroke-width="0" />
<rect x="1576.9" y="322.1" width="2.0" height="2.6" fill="#000" stroke="none" stroke-width="0" />
<rect x="1408.5" y="844.1" width="50.9" height="45.5" fill="#000" stroke="none" stroke-width="0" />
<rect x="1452.9" y="840.5" width="7.1" height="49.1" fill="#000" stroke="none" stroke-width="0" />
<rect x="1414.5" y="850.7" width="38.9" height="38.4" fill="#f98392" stroke="none" stroke-width="0" />
<rect x="1408.5" y="889.6" width="51.5" height="3.8" fill="#000" stroke="none" stroke-width="0" />
<circle cx="1417.3" cy="896.9" r="4.4" fill="#000" stroke="none" stroke-width="0" />
<circle cx="1449.6" cy="896.9" r="4.4" fill="#000" stroke="none" stroke-width="0" />
<rect x="1417.5" y="884.6" width="2.0" height="2.6" fill="#000" stroke="none" stroke-width="0" />
<rect x="1420.7" y="884.6" width="2.0" height="2.6" fill="#000" stroke="none" stroke-width="0" />
<rect x="1423.9" y="884.6" width="2.0" height="2.6" fill="#000" stroke="none" stroke-width="0" />
<rect x="1427.1" y="884.6" width="2.0" height="2.6" fill="#000" stroke="none" stroke-width="0" />
<rect x="1430.3" y="884.6" width="2.0" height="2.6" fill="#000" stroke="none" stroke-width="0" />
<rect x="1433.6" y="884.6" width="2.0" height="2.6" fill="#000" stroke="none" stroke-width="0" />
<rect x="1436.8" y="884.6" width="2.0" height="2.6" fill="#000" stroke="none" stroke-width="0" />
<rect x="1440.0" y="884.6" width="2.0" height="2.6" fill="#000" stroke="none" stroke-width="0" />
<rect x="1443.2" y="884.6" width="2.0" height="2.6" fill="#000" stroke="none" stroke-width="0" />
<rect x="1446.4" y="884.6" width="2.0" height="2.6" fill="#000" stroke="none" stroke-width="0" />
<path d="M1693.0,285.8 L1718.2,285.8 C1718.2,297.5 1711.9,307.0 1705.6,307.0 C1699.3,307.0 1693.0,297.5 1693.0,285.8 Z" fill="#f98392" stroke="#000" stroke-width="1.5" />
<path d="M1753.2,285.8 L1778.4,285.8 C1778.4,297.5 1772.1,307.0 1765.8,307.0 C1759.5,307.0 1753.2,297.5 1753.2,285.8 Z" fill="#f98392" stroke="#000" stroke-width="1.5" />
<path d="M1723.1,336.5 L1748.3,336.5 C1748.3,324.8 1742.0,315.3 1735.7,315.3 C1729.4,315.3 1723.1,324.8 1723.1,336.5 Z" fill="#f98392" stroke="#000" stroke-width="1.5" />
<rect x="1690.0" y="307.0" width="91.4" height="8.3" fill="#f98392" stroke="#000" stroke-width="1.5" />
<path d="M1420.3,1167.0 L1445.5,1167.0 C1445.5,1178.7 1439.2,1188.2 1432.9,1188.2 C1426.6,1188.2 1420.3,1178.7 1420.3,1167.0 Z" fill="#f98392" stroke="#000" stroke-width="1.5" />
<path d="M1480.3,1167.0 L1505.5,1167.0 C1505.5,1178.7 1499.2,1188.2 1492.9,1188.2 C1486.6,1188.2 1480.3,1178.7 1480.3,1167.0 Z" fill="#f98392" stroke="#000" stroke-width="1.5" />
<path d="M1450.3,1218.3 L1475.5,1218.3 C1475.5,1206.6 1469.2,1197.1 1462.9,1197.1 C1456.6,1197.1 1450.3,1206.6 1450.3,1218.3 Z" fill="#f98392" stroke="#000" stroke-width="1.5" />
<rect x="1417.3" y="1188.2" width="91.2" height="8.9" fill="#f98392" stroke="#000" stroke-width="1.5" />
<pattern id="hatch1920" width="4" height="4" patternUnits="userSpaceOnUse" patternTransform="rotate(35)"><rect width="4" height="4" fill="#a4a4a4"/><rect width="1.3" height="4" fill="#969696"/></pattern>
<polygon points="1913.1,257.7 1926.2,273.1 1926.2,300.8 1913.1,314.7" fill="url(#hatch1920)" stroke="#000" stroke-width="1.7" />
<polygon points="1914.3,322.4 1926.8,309.3 1926.8,364.7 1914.3,350.1" fill="url(#hatch1920)" stroke="#000" stroke-width="1.7" />
<circle cx="1920.0" cy="312.0" r="3.0" fill="#f0002a" stroke="#300" stroke-width="1.1" />
<pattern id="hatch1623" width="4" height="4" patternUnits="userSpaceOnUse" patternTransform="rotate(35)"><rect width="4" height="4" fill="#a4a4a4"/><rect width="1.3" height="4" fill="#969696"/></pattern>
<polygon points="1616.3,1138.3 1629.4,1153.7 1629.4,1181.4 1616.3,1195.3" fill="url(#hatch1623)" stroke="#000" stroke-width="1.7" />
<polygon points="1617.5,1203.0 1630.0,1189.9 1630.0,1245.3 1617.5,1230.7" fill="url(#hatch1623)" stroke="#000" stroke-width="1.7" />
<circle cx="1623.2" cy="1192.6" r="3.0" fill="#f0002a" stroke="#300" stroke-width="1.1" />
<linearGradient id="bil1" gradientUnits="userSpaceOnUse" x1="1359.0" y1="528.1" x2="1435.5" y2="471.5"><stop offset="0" stop-color="#6a6a6a"/><stop offset="0.45" stop-color="#e6e6e6"/><stop offset="0.7" stop-color="#9a9a9a"/><stop offset="1" stop-color="#5a5a5a"/></linearGradient>
<linearGradient id="bil2" gradientUnits="userSpaceOnUse" x1="1367.2" y1="539.9" x2="1441.4" y2="481.0"><stop offset="0" stop-color="#8a8a8a"/><stop offset="0.5" stop-color="#d0d0d0"/><stop offset="1" stop-color="#4a4a4a"/></linearGradient>
<polygon points="1352.4,524.6 1429.2,469.2 1441.4,475.1 1367.2,532.3" fill="url(#bil1)" stroke="#000" stroke-width="1.6" />
<polygon points="1367.2,532.3 1441.4,475.1 1441.4,488.0 1367.2,548.8" fill="url(#bil2)" stroke="#000" stroke-width="1.6" />
<polygon points="1352.4,524.6 1367.2,532.3 1367.2,548.8 1352.4,539.9" fill="url(#faceg)" stroke="#000" stroke-width="1.6" />
<circle cx="1397.5" cy="648.2" r="11.0" fill="#000" stroke="none" stroke-width="0" />
<polyline points="1388.5,635.3 1394.9,643.7" fill="none" stroke="#000" stroke-width="4.5" />
<polyline points="1361.3,664.3 1435.6,664.3" fill="none" stroke="#ff0000" stroke-width="2.2" />
<polygon points="1569.3,652.4 1579.9,652.4 1579.9,644.3 1587.4,644.3 1587.4,633.0 1590.6,633.0 1590.6,644.3 1594.5,644.3 1594.5,633.0 1598.3,633.0 1598.3,644.3 1602.5,644.3 1602.5,633.0 1606.1,633.0 1606.1,644.3 1612.2,644.3 1612.2,633.0 1629.3,633.0 1629.3,668.5 1569.3,668.5" fill="#ff0000" stroke="#000" stroke-width="1.6" />
<circle cx="1617.7" cy="634.6" r="5.0" fill="#fff" stroke="#000" stroke-width="1.6" />
<polyline points="1573.5,657.6 1627.4,657.6" fill="none" stroke="#000" stroke-width="1.8" stroke-dasharray="2.2 1.6"/>
<rect x="1701.0" y="605.6" width="19.4" height="7.4" fill="#000" stroke="none" stroke-width="0" />
<rect x="1701.0" y="665.9" width="19.4" height="7.4" fill="#000" stroke="none" stroke-width="0" />
<polyline points="1703.6,613.0 1703.6,665.9" fill="none" stroke="#000" stroke-width="1.4" />
<polyline points="1717.8,613.0 1717.8,665.9" fill="none" stroke="#000" stroke-width="1.4" />
<polyline points="1699.4,638.8 1722.0,638.8" fill="none" stroke="#000" stroke-width="1.4" />
<circle cx="1708.4" cy="634.3" r="3.6" fill="#000" stroke="none" stroke-width="0" />
<circle cx="1708.4" cy="642.1" r="3.6" fill="#000" stroke="none" stroke-width="0" />
<circle cx="1708.4" cy="649.2" r="3.6" fill="#000" stroke="none" stroke-width="0" />
<rect x="1819.8" y="588.5" width="45.2" height="90.7" rx="4" fill="#fff" stroke="#000" stroke-width="3"/>
<circle cx="1842.4" cy="611.6" r="19.2" fill="#b80000" stroke="#000" stroke-width="1.4" />
<circle cx="1842.4" cy="657.2" r="19.2" fill="#b80000" stroke="#000" stroke-width="1.4" />
<polygon points="1801.1,628.2 1882.5,629.1 1882.5,638.2 1843.1,637.5 1823.7,640.1 1801.1,640.1" fill="#ff0000" stroke="#000" stroke-width="1" />
<rect x="1803.4" y="666.9" width="16.5" height="4.2" fill="#000" stroke="none" stroke-width="0" />
<rect x="1865.0" y="666.9" width="16.1" height="4.2" fill="#000" stroke="none" stroke-width="0" />
<rect x="1515.9" y="844.1" width="78.5" height="57.2" fill="#fff" stroke="#000" stroke-width="1.8" />
<circle cx="1528.5" cy="884.0" r="7.5" fill="#ff0000" stroke="#000" stroke-width="1.5" />
<circle cx="1546.4" cy="884.0" r="7.5" fill="#ff0000" stroke="#000" stroke-width="1.5" />
<circle cx="1563.7" cy="884.0" r="7.5" fill="#ff0000" stroke="#000" stroke-width="1.5" />
<circle cx="1581.3" cy="884.0" r="7.5" fill="#ff0000" stroke="#000" stroke-width="1.5" />
<rect x="1515.9" y="867.7" width="78.5" height="11.3" fill="#ff0000" stroke="#000" stroke-width="1.2" />
<path d="M1530.4,846.3 q-3.2,3.5 0,6.5" fill="none" stroke="#ff0000" stroke-width="1.3" />
<polyline points="1528.2,853.2 1531.6,853.2" fill="none" stroke="#ff0000" stroke-width="1.2" />
<path d="M1537.9,846.3 q-3.2,3.5 0,6.5" fill="none" stroke="#ff0000" stroke-width="1.3" />
<polyline points="1535.7,853.2 1539.2,853.2" fill="none" stroke="#ff0000" stroke-width="1.2" />
<path d="M1545.5,846.3 q-3.2,3.5 0,6.5" fill="none" stroke="#ff0000" stroke-width="1.3" />
<polyline points="1543.3,853.2 1546.7,853.2" fill="none" stroke="#ff0000" stroke-width="1.2" />
<path d="M1553.0,846.3 q-3.2,3.5 0,6.5" fill="none" stroke="#ff0000" stroke-width="1.3" />
<polyline points="1550.8,853.2 1554.3,853.2" fill="none" stroke="#ff0000" stroke-width="1.2" />
<path d="M1560.5,846.3 q-3.2,3.5 0,6.5" fill="none" stroke="#ff0000" stroke-width="1.3" />
<polyline points="1558.3,853.2 1561.8,853.2" fill="none" stroke="#ff0000" stroke-width="1.2" />
<path d="M1568.1,846.3 q-3.2,3.5 0,6.5" fill="none" stroke="#ff0000" stroke-width="1.3" />
<polyline points="1565.9,853.2 1569.3,853.2" fill="none" stroke="#ff0000" stroke-width="1.2" />
<polyline points="1691.9,852.9 1769.5,852.9" fill="none" stroke="#000" stroke-width="1.8" />
<polygon points="1702.9,853.5 1720.1,853.5 1716.1,860.4 1706.9,860.4" fill="#fff" stroke="#000" stroke-width="1.5" />
<polyline points="1707.3,862.9 1700.4,875.5" fill="none" stroke="#ff0000" stroke-width="1.3" />
<polyline points="1709.8,862.9 1706.6,875.5" fill="none" stroke="#ff0000" stroke-width="1.3" />
<polyline points="1711.7,862.9 1711.7,875.5" fill="none" stroke="#ff0000" stroke-width="1.3" />
<polyline points="1713.5,862.9 1716.7,875.5" fill="none" stroke="#ff0000" stroke-width="1.3" />
<polyline points="1716.1,862.9 1723.0,875.5" fill="none" stroke="#ff0000" stroke-width="1.3" />
<polygon points="1739.0,853.5 1756.3,853.5 1752.2,860.4 1743.1,860.4" fill="#fff" stroke="#000" stroke-width="1.5" />
<polyline points="1743.4,862.9 1736.5,875.5" fill="none" stroke="#ff0000" stroke-width="1.3" />
<polyline points="1745.9,862.9 1742.8,875.5" fill="none" stroke="#ff0000" stroke-width="1.3" />
<polyline points="1747.8,862.9 1747.8,875.5" fill="none" stroke="#ff0000" stroke-width="1.3" />
<polyline points="1749.7,862.9 1752.8,875.5" fill="none" stroke="#ff0000" stroke-width="1.3" />
<polyline points="1752.2,862.9 1759.1,875.5" fill="none" stroke="#ff0000" stroke-width="1.3" />
<circle cx="1704.4" cy="895.0" r="7.5" fill="#ff0000" stroke="#000" stroke-width="1.5" />
<circle cx="1721.7" cy="895.0" r="7.5" fill="#ff0000" stroke="#000" stroke-width="1.5" />
<circle cx="1739.0" cy="895.0" r="7.5" fill="#ff0000" stroke="#000" stroke-width="1.5" />
<circle cx="1756.3" cy="895.0" r="7.5" fill="#ff0000" stroke="#000" stroke-width="1.5" />
<rect x="1691.2" y="878.0" width="78.2" height="11.6" fill="#ff0000" stroke="#000" stroke-width="1.2" />
<polyline points="1847.4,829.3 1847.4,888.7 1891.4,888.7" fill="none" stroke="#ff0000" stroke-width="2" />
<polyline points="1856.8,830.0 1856.8,870.2" fill="none" stroke="#000" stroke-width="1.8" />
<polyline points="1856.8,849.4 1896.1,849.4 1896.1,897.5 1856.8,897.5" fill="none" stroke="#000" stroke-width="1.8" />
<ellipse cx="1856.8" cy="881.8" rx="3.6" ry="6.0" fill="#ff0000" stroke="none" stroke-width="0" />
<ellipse cx="1864.0" cy="881.8" rx="3.6" ry="6.0" fill="#ff0000" stroke="none" stroke-width="0" />
<ellipse cx="1871.9" cy="881.8" rx="3.6" ry="6.0" fill="#ff0000" stroke="none" stroke-width="0" />
<ellipse cx="1879.7" cy="881.8" rx="3.6" ry="6.0" fill="#ff0000" stroke="none" stroke-width="0" />
<ellipse cx="1887.3" cy="881.8" rx="3.6" ry="6.0" fill="#ff0000" stroke="none" stroke-width="0" />
<path d="M1733.8,1163.3 C1758.7,1170.6 1780.3,1173.3 1806.0,1150.9 L1814.1,1158.4 C1810.1,1172.0 1806.0,1177.4 1804.7,1182.8 L1805.2,1207.1 C1785.7,1205.0 1758.7,1209.8 1731.6,1222.0 L1725.7,1209.8 C1728.9,1199.0 1734.3,1190.9 1734.9,1186.8 Z" fill="#000" stroke="none" stroke-width="0" />
<ellipse cx="1806.8" cy="1164.4" rx="7" ry="14.5" transform="rotate(22 1806.8 1164.4)" fill="#fff" stroke="#000" stroke-width="1.6"/>
<ellipse cx="1734.9" cy="1207.1" rx="8" ry="15.5" transform="rotate(22 1734.9 1207.1)" fill="#fff" stroke="#000" stroke-width="1.6"/>
<rect x="1733.8" y="1181.7" width="73.6" height="9.2" fill="#ffef00" stroke="#000" stroke-width="1.5" />
<ellipse cx="1734.3" cy="1186.3" rx="2.6" ry="4.6" fill="#ffef00" stroke="#000" stroke-width="1.3" />
<polygon points="1896.1,1193.6 1931.8,1193.6 1931.8,1190.9 1936.7,1190.9 1936.7,1193.6 1979.9,1193.6 1979.9,1198.2 1945.3,1198.2 1945.3,1200.9 1939.9,1200.9 1939.9,1198.2 1896.1,1198.2" fill="#f08a1e" stroke="#000" stroke-width="1.2" />
<circle cx="1905.6" cy="1176.0" r="4.8" fill="#fff" stroke="#000" stroke-width="1.5" />
<polyline points="1899.6,1182.5 1901.4,1186.0" fill="none" stroke="#000" stroke-width="1" />
<polyline points="1903.1,1182.5 1904.9,1186.0" fill="none" stroke="#000" stroke-width="1" />
<polyline points="1906.6,1182.5 1908.4,1186.0" fill="none" stroke="#000" stroke-width="1" />
<polyline points="1910.1,1182.5 1911.9,1186.0" fill="none" stroke="#000" stroke-width="1" />
<circle cx="1924.5" cy="1176.0" r="4.8" fill="#fff" stroke="#000" stroke-width="1.5" />
<polyline points="1918.5,1182.5 1920.3,1186.0" fill="none" stroke="#000" stroke-width="1" />
<polyline points="1922.0,1182.5 1923.8,1186.0" fill="none" stroke="#000" stroke-width="1" />
<polyline points="1925.5,1182.5 1927.3,1186.0" fill="none" stroke="#000" stroke-width="1" />
<polyline points="1929.0,1182.5 1930.8,1186.0" fill="none" stroke="#000" stroke-width="1" />
<circle cx="1946.7" cy="1176.0" r="4.8" fill="#fff" stroke="#000" stroke-width="1.5" />
<polyline points="1940.7,1182.5 1942.5,1186.0" fill="none" stroke="#000" stroke-width="1" />
<polyline points="1944.2,1182.5 1946.0,1186.0" fill="none" stroke="#000" stroke-width="1" />
<polyline points="1947.7,1182.5 1949.5,1186.0" fill="none" stroke="#000" stroke-width="1" />
<polyline points="1951.2,1182.5 1953.0,1186.0" fill="none" stroke="#000" stroke-width="1" />
<circle cx="1966.2" cy="1176.0" r="4.8" fill="#fff" stroke="#000" stroke-width="1.5" />
<polyline points="1960.2,1182.5 1962.0,1186.0" fill="none" stroke="#000" stroke-width="1" />
<polyline points="1963.7,1182.5 1965.5,1186.0" fill="none" stroke="#000" stroke-width="1" />
<polyline points="1967.2,1182.5 1969.0,1186.0" fill="none" stroke="#000" stroke-width="1" />
<polyline points="1970.7,1182.5 1972.5,1186.0" fill="none" stroke="#000" stroke-width="1" />
<clipPath id="cc3"><ellipse cx="2126.3" cy="1171.4" rx="18.6" ry="18.6"/></clipPath>
<ellipse cx="2126.3" cy="1171.4" rx="18.6" ry="18.6" fill="#fff" stroke="none" stroke-width="0" />
<g clip-path="url(#cc3)">
<rect x="2106.7" y="1151.8" width="39.2" height="13.9" fill="#1c1c8e" stroke="none" stroke-width="0" />
<rect x="2106.7" y="1179.3" width="39.2" height="11.7" fill="#ff0000" stroke="none" stroke-width="0" />
<polyline points="2107.7,1165.7 2144.9,1165.7" fill="none" stroke="#000" stroke-width="1.2" />
<polyline points="2107.7,1179.3 2144.9,1179.3" fill="none" stroke="#000" stroke-width="1.2" />
</g>
<ellipse cx="2126.3" cy="1171.4" rx="18.6" ry="18.6" fill="none" stroke="#000" stroke-width="1.6" />
<circle cx="2126.3" cy="1171.4" r="2.4" fill="#000" stroke="none" stroke-width="0" />
<clipPath id="cc4"><ellipse cx="2126.7" cy="1221.0" rx="18.6" ry="18.6"/></clipPath>
<ellipse cx="2126.7" cy="1221.0" rx="18.6" ry="18.6" fill="#fff" stroke="none" stroke-width="0" />
<g clip-path="url(#cc4)">
<rect x="2107.1" y="1201.4" width="39.2" height="11.7" fill="#1c1c8e" stroke="none" stroke-width="0" />
<rect x="2107.1" y="1228.9" width="39.2" height="11.7" fill="#ff0000" stroke="none" stroke-width="0" />
<polyline points="2108.1,1213.1 2145.3,1213.1" fill="none" stroke="#000" stroke-width="1.2" />
<polyline points="2108.1,1228.9 2145.3,1228.9" fill="none" stroke="#000" stroke-width="1.2" />
</g>
<ellipse cx="2126.7" cy="1221.0" rx="18.6" ry="18.6" fill="none" stroke="#000" stroke-width="1.6" />
<circle cx="2126.7" cy="1221.0" r="2.4" fill="#000" stroke="none" stroke-width="0" />
<rect x="2083" y="1190.5" width="86.8" height="12.5" rx="6.2" fill="#fff" stroke="#000" stroke-width="1.6"/>
<ellipse cx="2091.5" cy="1196.8" rx="8.0" ry="5.6" fill="#fff" stroke="#000" stroke-width="1.5" />
<ellipse cx="2161.5" cy="1196.8" rx="8.0" ry="5.6" fill="#fff" stroke="#000" stroke-width="1.5" />
<!-- gen_prod.py -->
<defs><radialGradient id="endg" cx="0.4" cy="0.35" r="0.8"><stop offset="0" stop-color="#c4c4c4"/><stop offset="1" stop-color="#505050"/></radialGradient></defs>
<g transform="translate(2231.8 1205.4) rotate(-29.61)">
<path d="M0,-12.6 L119.4,-12.6 A7.0,12.6 0 0 1 119.4,12.6 L0,12.6 Z" fill="url(#rodg)" stroke="#000" stroke-width="2"/>
<ellipse cx="0" cy="0" rx="6.5" ry="12.6" fill="url(#endg)" stroke="#000" stroke-width="2"/>
</g>
<g transform="translate(2235.2 1294.3) rotate(-29.61)">
<path d="M0,-12.6 L119.6,-12.6 A7.0,12.6 0 0 1 119.6,12.6 L0,12.6 Z" fill="url(#rodg)" stroke="#000" stroke-width="2"/>
<ellipse cx="0" cy="0" rx="6.5" ry="12.6" fill="url(#endg)" stroke="#000" stroke-width="2"/>
</g>
<g transform="translate(2235.6 1394.3) rotate(-29.23)">
<path d="M0,-12.6 L119.4,-12.6 A7.0,12.6 0 0 1 119.4,12.6 L0,12.6 Z" fill="url(#rodg)" stroke="#000" stroke-width="2"/>
<ellipse cx="0" cy="0" rx="6.5" ry="12.6" fill="url(#endg)" stroke="#000" stroke-width="2"/>
</g>
<g transform="translate(2235.3 1483.3) rotate(-28.89)">
<path d="M0,-12.6 L119.2,-12.6 A7.0,12.6 0 0 1 119.2,12.6 L0,12.6 Z" fill="url(#rodg)" stroke="#000" stroke-width="2"/>
<ellipse cx="0" cy="0" rx="6.5" ry="12.6" fill="url(#endg)" stroke="#000" stroke-width="2"/>
</g>
<g transform="translate(2235.3 1578.3) rotate(-29.31)">
<path d="M0,-12.6 L119.7,-12.6 A7.0,12.6 0 0 1 119.7,12.6 L0,12.6 Z" fill="url(#rodg)" stroke="#000" stroke-width="2"/>
<ellipse cx="0" cy="0" rx="6.5" ry="12.6" fill="url(#endg)" stroke="#000" stroke-width="2"/>
</g>
<g transform="translate(2195.1 330.1) rotate(-29.18)">
<path d="M0,-13.0 L118.5,-13.0 A7.0,13.0 0 0 1 118.5,13.0 L0,13.0 Z" fill="url(#rodg)" stroke="#000" stroke-width="2"/>
<ellipse cx="0" cy="0" rx="6.5" ry="13.0" fill="url(#endg)" stroke="#000" stroke-width="2"/>
</g>
<linearGradient id="fb1" gradientUnits="userSpaceOnUse" x1="2189.1" y1="392.5" x2="2318.3" y2="331.7"><stop offset="0" stop-color="#8a8a8a"/><stop offset="0.4" stop-color="#f0f0f0"/><stop offset="0.75" stop-color="#a0a0a0"/><stop offset="1" stop-color="#4a4a4a"/></linearGradient>
<linearGradient id="fb2" gradientUnits="userSpaceOnUse" x1="2213.4" y1="410.7" x2="2318.3" y2="340.8"><stop offset="0" stop-color="#707070"/><stop offset="0.5" stop-color="#c8c8c8"/><stop offset="1" stop-color="#3a3a3a"/></linearGradient>
<polygon points="2189.1,392.5 2297.0,325.0 2318.3,334.7 2213.4,404.6" fill="url(#fb1)" stroke="#000" stroke-width="1.8" />
<polygon points="2213.4,404.6 2318.3,334.7 2318.3,345.3 2213.4,417.4" fill="url(#fb2)" stroke="#000" stroke-width="1.8" />
<polygon points="2189.1,392.5 2213.4,404.6 2213.4,417.4 2189.1,404.6" fill="url(#faceg)" stroke="#000" stroke-width="1.8" />
<linearGradient id="sb1" gradientUnits="userSpaceOnUse" x1="2192.1" y1="454.2" x2="2308.3" y2="389.4"><stop offset="0" stop-color="#8a8a8a"/><stop offset="0.4" stop-color="#f0f0f0"/><stop offset="0.75" stop-color="#a0a0a0"/><stop offset="1" stop-color="#4a4a4a"/></linearGradient>
<linearGradient id="sb2" gradientUnits="userSpaceOnUse" x1="2210.4" y1="474.6" x2="2308.3" y2="398.6"><stop offset="0" stop-color="#707070"/><stop offset="0.5" stop-color="#c8c8c8"/><stop offset="1" stop-color="#3a3a3a"/></linearGradient>
<polygon points="2192.1,454.2 2292.5,384.0 2308.3,391.6 2210.4,464.9" fill="url(#sb1)" stroke="#000" stroke-width="1.8" />
<polygon points="2210.4,464.9 2308.3,391.6 2308.3,404.6 2210.4,486.8" fill="url(#sb2)" stroke="#000" stroke-width="1.8" />
<polygon points="2192.1,454.2 2210.4,464.9 2210.4,486.8 2192.1,475.5" fill="url(#faceg)" stroke="#000" stroke-width="1.8" />
<g transform="translate(2269.3 491.8) rotate(-41.46)">
<path d="M0,-12.0 L46.0,-12.0 A7.0,12.0 0 0 1 46.0,12.0 L0,12.0 A7.0,12.0 0 0 1 0,-12.0 Z" fill="url(#rodg)" stroke="#000" stroke-width="1.9"/>
</g>
<g transform="translate(2240.8 516.9) rotate(-41.46)">
<path d="M0,-19.0 L38.0,-19.0 A10.0,19.0 0 0 1 38.0,19.0 L0,19.0 A10.0,19.0 0 0 1 0,-19.0 Z" fill="url(#rodg)" stroke="#000" stroke-width="1.9"/>
</g>
<g transform="translate(2233.3 523.5) rotate(-41.46)">
<path d="M0,-14.5 L10.0,-14.5 A8.0,14.5 0 0 1 10.0,14.5 L0,14.5 A8.0,14.5 0 0 1 0,-14.5 Z" fill="url(#rodg)" stroke="#000" stroke-width="1.9"/>
</g>
<g transform="translate(2203.4 550.0) rotate(-41.46)">
<path d="M0,-11.3 L40.0,-11.3 A6.5,11.3 0 0 1 40.0,11.3 L0,11.3 A6.5,11.3 0 0 1 0,-11.3 Z" fill="url(#rodg)" stroke="#000" stroke-width="1.9"/>
<ellipse cx="0" cy="0" rx="6.5" ry="11.3" fill="url(#endg)" stroke="#000" stroke-width="1.9"/>
</g>
<!-- gen_title.py -->
<defs><filter id="lsh" x="-20%" y="-20%" width="150%" height="150%"><feGaussianBlur stdDeviation="2.2"/></filter></defs>
<g transform="translate(5.5 5.5)" filter="url(#lsh)" opacity="0.75">
<text transform="translate(295.43 129.50) scale(0.7589 1)" x="0" y="0" font-size="57.0" font-weight="700" fill="#9a9a9a" >G</text><text transform="translate(327.54 129.50) scale(0.8533 1)" x="0" y="0" font-size="57.0" font-weight="700" fill="#9a9a9a" >M</text><text transform="translate(366.91 129.50) scale(0.7804 1)" x="0" y="0" font-size="57.0" font-weight="700" fill="#9a9a9a" >T</text><text transform="translate(396.43 129.50) scale(0.7136 1)" x="0" y="0" font-size="57.0" font-weight="700" fill="#9a9a9a" >C</text>
<ellipse cx="368.3" cy="109.1" rx="67.2" ry="28" transform="rotate(-43.4 368.3 109.1)" fill="none" stroke="#9a9a9a" stroke-width="4.3" />
</g>
<text transform="translate(295.43 129.50) scale(0.7589 1)" x="0" y="0" font-size="57.0" font-weight="700" fill="#f5820a" >G</text><text transform="translate(327.54 129.50) scale(0.8533 1)" x="0" y="0" font-size="57.0" font-weight="700" fill="#f5820a" >M</text><text transform="translate(366.91 129.50) scale(0.7804 1)" x="0" y="0" font-size="57.0" font-weight="700" fill="#f5820a" >T</text><text transform="translate(396.43 129.50) scale(0.7136 1)" x="0" y="0" font-size="57.0" font-weight="700" fill="#f5820a" >C</text>
<ellipse cx="368.3" cy="109.1" rx="67.2" ry="28" transform="rotate(-43.4 368.3 109.1)" fill="none" stroke="#1f8c30" stroke-width="4.3" />
<text x="451.0" y="133.8" fill="#0f5a28" font-size="48.5" text-anchor="start" font-weight="500" letter-spacing="12.9" stroke="#0f5a28" stroke-width="0.7">生產流程</text>
</svg>
</body></html>
